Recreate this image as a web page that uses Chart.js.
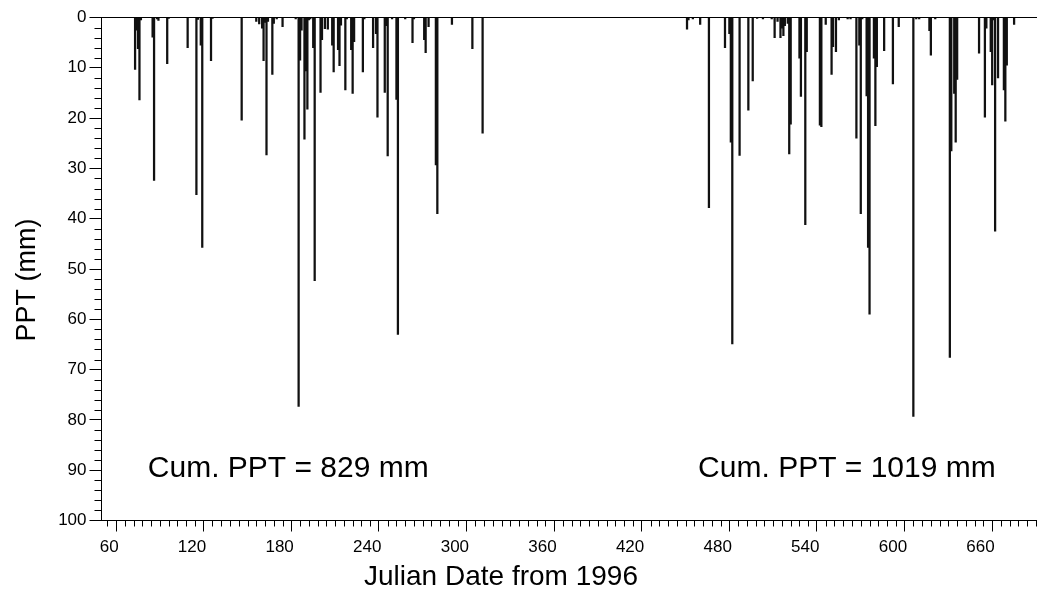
<!DOCTYPE html>
<html>
<head>
<meta charset="utf-8">
<script src="https://cdn.jsdelivr.net/npm/chart.js@4.4.1/dist/chart.umd.min.js"></script>
<style>
  html, body { margin: 0; padding: 0; background: #fff; }
  #wrap { width: 1037px; height: 596px; }
</style>
</head>
<body>
<div id="wrap"><canvas id="grafico"></canvas></div>
<script>
// daily rainfall (Julian day from 1996, mm)
const days = [
  73, 74, 75, 76, 77, 85, 86, 88, 89, 95, 96, 109, 115, 116, 118, 119, 125, 126,
  146, 156, 158, 160, 161, 162, 163, 164, 167, 168, 170, 174, 183, 185, 186, 187,
  189, 190, 191, 192, 193, 195, 196, 200, 201, 203, 205, 208, 209, 212, 213, 214,
  217, 218, 221, 222, 223, 229, 230, 236, 238, 239, 244, 245, 246, 249, 252, 253,
  258, 263, 264, 271, 272, 274, 279, 280, 290, 304, 311,
  451, 452, 455, 460, 466, 477, 480, 481, 482, 487, 493, 496, 499, 503, 509, 511,
  513, 515, 516, 517, 518, 520, 521, 522, 528, 529, 532, 533, 542, 543, 546, 550,
  551, 553, 555, 561, 563, 567, 569, 570, 571, 574, 575, 576, 579, 580, 581, 586,
  592, 596, 606, 608, 610, 617, 618, 621, 631, 632, 634, 635, 636, 651, 655, 656,
  659, 660, 661, 662, 664, 668, 669, 670, 675
];
const ppt = [
  10.3, 2.5, 6.2, 16.4, 0.5, 3.9, 32.4, 0.3, 0.6, 9.2, 0.2, 6.0, 35.2, 0.4, 5.5, 45.7, 8.6, 0.2,
  20.4, 0.8, 1.3, 2.1, 8.6, 1.0, 27.3, 0.8, 11.3, 1.2, 0.3, 1.8, 0.3, 77.3, 8.5, 2.5,
  24.2, 10.6, 18.2, 0.5, 0.3, 6.0, 52.3, 14.9, 4.4, 2.2, 2.3, 5.5, 10.8, 6.4, 9.6, 1.5,
  14.4, 0.3, 6.4, 15.1, 4.8, 10.8, 0.3, 6.0, 3.2, 19.8, 14.9, 1.6, 27.5, 0.3, 16.3, 63.0,
  0.3, 5.0, 0.3, 4.4, 7.0, 1.8, 29.3, 39.0, 1.4, 6.2, 23.0,
  2.3, 0.5, 0.3, 1.4, 37.8, 6.0, 3.2, 24.8, 64.9, 27.4, 18.4, 12.6, 0.2, 0.3, 0.3, 4.0,
  0.8, 4.0, 2.1, 3.6, 1.6, 1.2, 27.1, 21.2, 8.1, 15.7, 41.2, 6.8, 21.4, 21.7, 1.4, 11.3,
  5.8, 6.8, 0.5, 0.3, 0.3, 24.0, 5.5, 39.0, 0.3, 15.6, 45.7, 59.0, 8.1, 21.5, 9.8, 6.6,
  13.2, 1.8, 79.3, 0.3, 0.3, 2.6, 7.5, 0.3, 67.6, 26.5, 15.1, 24.8, 12.3, 7.1, 19.8, 2.1,
  6.8, 13.4, 0.5, 42.5, 12.0, 14.4, 20.6, 9.5, 1.4
];
const xTicks = [60, 120, 180, 240, 300, 360, 420, 480, 540, 600, 660];
const yTicks = [0, 10, 20, 30, 40, 50, 60, 70, 80, 90, 100];
const totals = ["Cum. PPT = 829 mm", "Cum. PPT = 1019 mm"];
const xTitle = "Julian Date from 1996";
const yTitle = "PPT (mm)";

const FONT = "'Liberation Sans', Arial, sans-serif";

// minor ticks, axis titles and the two totals
const extras = {
  id: 'extras',
  afterDraw(chart) {
    const { ctx, chartArea, scales } = chart;
    ctx.save();
    ctx.strokeStyle = '#000';
    ctx.lineWidth = 1;
    ctx.beginPath();
    for (let v = 2; v < 100; v += 2) {
      if (v % 10 === 0) continue;
      const y = Math.round(scales.y.getPixelForValue(v)) + 0.5;
      ctx.moveTo(chartArea.left, y);
      ctx.lineTo(chartArea.left - 7, y);
    }
    for (let v = 54; v <= 690; v += 6) {
      if (v % 60 === 0) continue;
      const x = Math.round(scales.x.getPixelForValue(v)) + 0.5;
      ctx.moveTo(x, chartArea.bottom);
      ctx.lineTo(x, chartArea.bottom + 6);
    }
    ctx.stroke();

    ctx.fillStyle = '#000';
    ctx.textBaseline = 'middle';
    ctx.font = '30px ' + FONT;
    ctx.textAlign = 'left';
    const ty = scales.y.getPixelForValue(89.8);
    ctx.fillText(totals[0], scales.x.getPixelForValue(81.7), ty);
    ctx.fillText(totals[1], scales.x.getPixelForValue(458.6), ty);

    ctx.font = '28px ' + FONT;
    ctx.textAlign = 'center';
    ctx.fillText(xTitle, 501, 577);

    ctx.translate(28, 280);
    ctx.rotate(-Math.PI / 2);
    ctx.font = '27px ' + FONT;
    ctx.fillText(yTitle, 0, 0);
    ctx.restore();
  }
};

new Chart(document.getElementById('grafico'), {
  type: 'bar',
  data: {
    datasets: [{
      data: days.map((d, i) => ({ x: d, y: ppt[i] })),
      backgroundColor: '#111',
      borderWidth: 0,
      barThickness: 1.6
    }]
  },
  options: {
    responsive: true,
    maintainAspectRatio: false,
    devicePixelRatio: 1,
    animation: false,
    layout: { padding: { top: 17.5, right: 1, left: 0, bottom: 37.8 } },
    plugins: {
      legend: { display: false },
      tooltip: { enabled: false }
    },
    scales: {
      x: {
        type: 'linear',
        min: 50,
        max: 690,
        offset: false,
        afterBuildTicks: s => { s.ticks = xTicks.map(v => ({ value: v })); },
        afterFit: s => { s.height = 37.7; },
        grid: { offset: false, drawOnChartArea: false, drawTicks: true, tickLength: 11, color: '#000' },
        border: { display: true, color: '#000', width: 1 },
        ticks: {
          color: '#000',
          font: { family: FONT, size: 17 },
          padding: 6,
          align: 'end',
          labelOffset: 2.5,
          maxRotation: 0,
          autoSkip: false
        }
      },
      xTop: {
        type: 'linear',
        position: 'top',
        min: 50,
        max: 690,
        offset: false,
        afterFit: s => { s.height = 0; },
        grid: { display: false },
        border: { display: true, color: '#000', width: 1 },
        ticks: { display: false }
      },
      y: {
        reverse: true,
        min: 0,
        max: 100,
        afterBuildTicks: s => { s.ticks = yTicks.map(v => ({ value: v })); },
        afterFit: s => { s.width = 101.5; },
        grid: { drawOnChartArea: false, drawTicks: true, tickLength: 12, color: '#000' },
        border: { display: true, color: '#000', width: 1 },
        ticks: {
          color: '#000',
          font: { family: FONT, size: 17 },
          padding: 3
        }
      }
    }
  },
  plugins: [extras]
});
</script>
</body>
</html>
